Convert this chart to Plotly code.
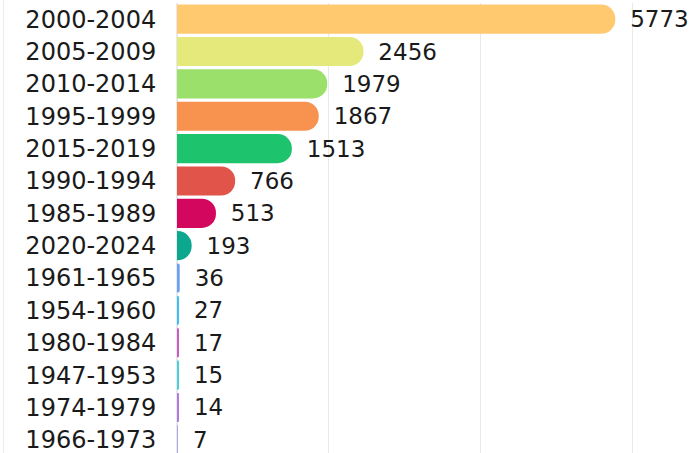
import plotly.graph_objects as go

categories = ["2000-2004", "2005-2009", "2010-2014", "1995-1999", "2015-2019",
              "1990-1994", "1985-1989", "2020-2024", "1961-1965", "1954-1960",
              "1980-1984", "1947-1953", "1974-1979", "1966-1973"]
values = [5773, 2456, 1979, 1867, 1513, 766, 513, 193, 36, 27, 17, 15, 14, 7]
colors = ["#FFC970", "#E5E87A", "#9BE06A", "#F7924F", "#1DC46D", "#E0544A",
          "#D4075E", "#0BA78E", "#6AA0F5", "#3DBFF5", "#CC5CC0", "#4DD0DD",
          "#B07ADF", "#A8A8E8"]

FONT = "DejaVu Sans"

fig = go.Figure(go.Bar(
    x=values, y=categories, orientation="h",
    marker=dict(color=colors, cornerradius="50%", line=dict(width=0)),
    text=values, texttemplate="\u00a0\u2009%{x}", textposition="outside",
    textfont=dict(family=FONT, size=23, color="#1a1a1a"),
    cliponaxis=False, hoverinfo="skip",
))

W, H, L = 691, 456, 177
fig.update_layout(
    width=W, height=H,
    margin=dict(l=L, r=0, t=3, b=0, autoexpand=False),
    plot_bgcolor="white", paper_bgcolor="white",
    bargap=0.1, showlegend=False,
    font=dict(family=FONT, size=24, color="#1a1a1a"),
    xaxis=dict(range=[0, 6770], dtick=2000, showgrid=True, gridcolor="#e9e9e9",
               gridwidth=1, zeroline=True, zerolinecolor="#e9e9e9",
               showticklabels=False, fixedrange=True, automargin=False),
    yaxis=dict(autorange="reversed", showgrid=False, ticks="outside", ticklen=15,
               tickcolor="rgba(0,0,0,0)", automargin=False, fixedrange=True,
               tickfont=dict(family=FONT, size=24, color="#1a1a1a")),
    shapes=[dict(type="line", xref="paper", yref="paper",
                 x0=-(L - 3.5) / (W - L), x1=-(L - 3.5) / (W - L), y0=0, y1=1.02,
                 line=dict(color="#ececec", width=1))],
)

fig.write_html("out.html", config={"displayModeBar": False},
               post_script="document.body.style.margin='0';document.body.style.overflow='hidden';")
